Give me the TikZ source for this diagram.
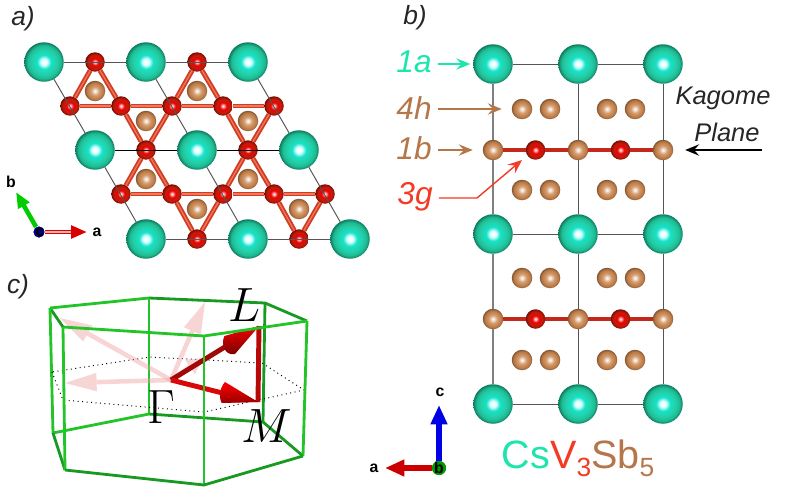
\documentclass[tikz,border=0pt]{standalone}
\usepackage{amsmath}
\usepackage{fontspec}
\setmainfont{Liberation Sans}
\usepackage{xcolor}
\usepackage{tikz}
\usetikzlibrary{arrows.meta}

\definecolor{cslabel}{HTML}{1DE5AE}
\definecolor{vlabel}{HTML}{F23A24}
\definecolor{sblabel}{HTML}{B5764A}
\definecolor{inklabel}{HTML}{262626}
\definecolor{csmid}{HTML}{24CFA6}
\definecolor{csedge}{HTML}{0E7C5E}
\definecolor{vmid}{HTML}{CC1A0A}
\definecolor{vedge}{HTML}{700C03}
\definecolor{sbmid}{HTML}{C98650}
\definecolor{sbedge}{HTML}{805430}
\definecolor{cellgray}{HTML}{555555}
\definecolor{bondred}{HTML}{D23C22}
\definecolor{bondlight}{HTML}{EE7A5E}
\definecolor{layerred}{HTML}{C4281A}
\definecolor{zoneback}{HTML}{189A22}
\definecolor{zonefront}{HTML}{22C428}
\definecolor{pathred}{HTML}{D80808}
\definecolor{pathdark}{HTML}{A00808}
\definecolor{pathfade}{HTML}{EE9C9C}

\pgfdeclareradialshading{csball}{\pgfpoint{0bp}{0bp}}{color(0bp)=(white); color(4bp)=(cyan!15!white); color(9bp)=(csmid!60!cyan); color(16bp)=(csmid); color(21bp)=(csmid!75!csedge); color(25bp)=(csedge); color(50bp)=(csedge)}
\pgfdeclareradialshading{vball}{\pgfpoint{0bp}{0bp}}{color(0bp)=(white); color(4bp)=(red!45!white); color(9bp)=(red!90!black); color(16bp)=(vmid); color(21bp)=(vmid!70!vedge); color(25bp)=(vedge); color(50bp)=(vedge)}
\pgfdeclareradialshading{sbball}{\pgfpoint{0bp}{0bp}}{color(0bp)=(white); color(4bp)=(sbmid!30!white); color(10bp)=(sbmid!80!white); color(16bp)=(sbmid); color(21bp)=(sbmid!70!sbedge); color(25bp)=(sbedge); color(50bp)=(sbedge)}

\tikzset{
    csatom/.style={circle, shading=csball, minimum size=0.79cm, inner sep=0pt, outer sep=0pt},
    vatom/.style={circle, shading=vball, minimum size=0.39cm, inner sep=0pt, outer sep=0pt},
    sbatom/.style={circle, shading=sbball, minimum size=0.41cm, inner sep=0pt, outer sep=0pt},
    cell/.style={draw=cellgray, line width=0.55pt},
    bond/.style={draw=bondred, line width=2.8pt},
    bondcore/.style={draw=bondlight, line width=0.7pt},
    layer/.style={draw=layerred, line width=1.8pt},
    paneltag/.style={font=\itshape\fontsize{15}{15}\selectfont, text=inklabel},
    sitetag/.style={font=\itshape\fontsize{18}{18}\selectfont},
    sitearrow/.style={line width=0.8pt, -{Stealth[length=8pt, width=6.5pt, inset=3pt]}},
    axistag/.style={font=\bfseries\fontsize{9}{9}\selectfont},
    kagometag/.style={font=\itshape\fontsize{14.5}{14.5}\selectfont, text=inklabel},
    zoneedge/.style={draw=zonefront, line width=1.6pt, line join=round},
    zoneback/.style={draw=zoneback, line width=1.6pt, line join=round},
    midplane/.style={draw=black, line width=0.55pt, dotted},
    fadearrow/.style={draw=pathfade, line width=2.6pt, opacity=0.42, -{Triangle[length=18pt, width=10.5pt, line width=0pt, fill=pathfade]}},
    patharrow/.style={line width=2.8pt, -{Triangle[length=20pt, width=11pt, line width=0pt, fill=pathred]}},
    bigmath/.style={scale=1.1, font=\Huge},
}

\begin{document}
\begin{tikzpicture}[x=0.02cm, y=-0.02cm]
    \useasboundingbox (0, 0) rectangle (800, 500);
    % Panel tags
    \node [paneltag] (taga) at (23, 19) {a)};
    \node [paneltag] (tagb) at (415, 18) {b)};
    \node [paneltag] (tagc) at (18, 287) {c)};

    % a) Cs
    \node [csatom] (acsa) at (44, 62) {};
    \node [csatom] (acsb) at (146, 62) {};
    \node [csatom] (acsc) at (248, 62) {};
    \node [csatom] (acsd) at (95, 150) {};
    \node [csatom] (acse) at (197, 150) {};
    \node [csatom] (acsf) at (299, 150) {};
    \node [csatom] (acsg) at (146, 239) {};
    \node [csatom] (acsh) at (248, 239) {};
    \node [csatom] (acsi) at (350, 239) {};
    % a) V
    \node [vatom] (ava) at (95, 62) {};
    \node [vatom] (avb) at (197, 62) {};
    \node [vatom] (avc) at (70, 106) {};
    \node [vatom] (avd) at (121, 106) {};
    \node [vatom] (ave) at (172, 106) {};
    \node [vatom] (avf) at (223, 106) {};
    \node [vatom] (avg) at (274, 106) {};
    \node [vatom] (avh) at (146, 150) {};
    \node [vatom] (avi) at (248, 150) {};
    \node [vatom] (avj) at (121, 194) {};
    \node [vatom] (avk) at (172, 194) {};
    \node [vatom] (avl) at (223, 194) {};
    \node [vatom] (avm) at (274, 194) {};
    \node [vatom] (avn) at (325, 194) {};
    \node [vatom] (avo) at (197, 239) {};
    \node [vatom] (avp) at (299, 239) {};
    % a) Sb
    \node [sbatom] (asba) at (95, 91) {};
    \node [sbatom] (asbb) at (197, 91) {};
    \node [sbatom] (asbc) at (146, 121) {};
    \node [sbatom] (asbd) at (248, 121) {};
    \node [sbatom] (asbe) at (146, 179) {};
    \node [sbatom] (asbf) at (248, 179) {};
    \node [sbatom] (asbg) at (197, 209) {};
    \node [sbatom] (asbh) at (299, 209) {};
    % a) V-V bonds
    \foreach \i/\j in {ava/avc, ava/avd, avb/ave, avb/avf, avc/avd, avd/ave, ave/avf, avf/avg,
                       avd/avh, ave/avh, avf/avi, avg/avi, avh/avj, avh/avk, avi/avl, avi/avm,
                       avj/avk, avk/avl, avl/avm, avm/avn, avk/avo, avl/avo, avm/avp, avn/avp} {
        \draw [bond] (\i) -- (\j);
        \draw [bondcore] (\i) -- (\j);
    }
    % a) Cell lines
    \draw [cell] (acsa) -- (acsb);
    \draw [cell] (acsb) -- (acsc);
    \draw [cell, black] (acsd) -- (acse);
    \draw [cell, black] (acse) -- (acsf);
    \draw [cell] (acsg) -- (acsh);
    \draw [cell] (acsh) -- (acsi);
    \draw [cell] (acsa) -- (acsd);
    \draw [cell] (acsd) -- (acsg);
    \draw [cell] (acsb) -- (acse);
    \draw [cell] (acse) -- (acsh);
    \draw [cell] (acsc) -- (acsf);
    \draw [cell] (acsf) -- (acsi);
    % a) Axes
    \node [circle, fill=blue!55!black, minimum size=0.22cm, inner sep=0pt] (axc) at (39, 232) {};
    \coordinate (axa) at (87, 232);
    \coordinate (axb) at (16, 192);
    \draw [line width=2.6pt, red!85!black, -{Triangle[length=9pt, width=7pt]}] (axc) -- (axa);
    \draw [line width=0.8pt, red!30!white, shorten >=9pt] (axc) -- (axa);
    \draw [line width=2.6pt, green!80!black, -{Triangle[length=9pt, width=7pt]}] (axc) -- (axb);
    \node [circle, fill=blue!55!black, minimum size=0.22cm, inner sep=0pt] (axo) at (axc) {};
    \node [axistag] (axctag) at (40, 232) {c};
    \node [axistag] (axatag) at (97, 232) {a};
    \node [axistag] (axbtag) at (11, 182) {b};

    % b) Cs
    \node [csatom] (bcsa) at (493, 64) {};
    \node [csatom] (bcsb) at (578, 64) {};
    \node [csatom] (bcsc) at (663, 64) {};
    \node [csatom] (bcsd) at (493, 234) {};
    \node [csatom] (bcse) at (578, 234) {};
    \node [csatom] (bcsf) at (663, 234) {};
    \node [csatom] (bcsg) at (493, 404) {};
    \node [csatom] (bcsh) at (578, 404) {};
    \node [csatom] (bcsi) at (663, 404) {};
    % b) Kagome rows
    \node [sbatom] (bsba) at (493, 150) {};
    \node [vatom] (bva) at (535.5, 150) {};
    \node [sbatom] (bsbb) at (578, 150) {};
    \node [vatom] (bvb) at (620.5, 150) {};
    \node [sbatom] (bsbc) at (663, 150) {};
    \node [sbatom] (bsbd) at (493, 319) {};
    \node [vatom] (bvc) at (535.5, 319) {};
    \node [sbatom] (bsbe) at (578, 319) {};
    \node [vatom] (bvd) at (620.5, 319) {};
    \node [sbatom] (bsbf) at (663, 319) {};
    % b) Sb pairs
    \foreach \y/\r in {109/a, 190/b, 278/c, 360/d} {
        \node [sbatom] (bsq\r a) at (522, \y) {};
        \node [sbatom] (bsq\r b) at (550, \y) {};
        \node [sbatom] (bsq\r c) at (607, \y) {};
        \node [sbatom] (bsq\r d) at (635, \y) {};
    }
    % b) Cell lines
    \draw [cell] (bcsa) -- (bcsb);
    \draw [cell] (bcsb) -- (bcsc);
    \draw [cell] (bcsd) -- (bcse);
    \draw [cell] (bcse) -- (bcsf);
    \draw [cell] (bcsg) -- (bcsh);
    \draw [cell] (bcsh) -- (bcsi);
    \draw [cell, gray, line width=0.8pt] (bcsa) -- (bsba);
    \draw [cell, gray, line width=0.8pt] (bsba) -- (bcsd);
    \draw [cell, gray, line width=0.8pt] (bcsd) -- (bsbd);
    \draw [cell, gray, line width=0.8pt] (bsbd) -- (bcsg);
    \draw [cell] (bcsb) -- (bsbb);
    \draw [cell] (bsbb) -- (bcse);
    \draw [cell] (bcse) -- (bsbe);
    \draw [cell] (bsbe) -- (bcsh);
    \draw [cell] (bcsc) -- (bsbc);
    \draw [cell] (bsbc) -- (bcsf);
    \draw [cell] (bcsf) -- (bsbf);
    \draw [cell] (bsbf) -- (bcsi);
    % b) V-Sb bonds
    \draw [layer] (bsba) -- (bva);
    \draw [layer] (bva) -- (bsbb);
    \draw [layer] (bsbb) -- (bvb);
    \draw [layer] (bvb) -- (bsbc);
    \draw [layer] (bsbd) -- (bvc);
    \draw [layer] (bvc) -- (bsbe);
    \draw [layer] (bsbe) -- (bvd);
    \draw [layer] (bvd) -- (bsbf);
    % b) Site labels
    \node [sitetag, text=cslabel] (site1a) at (414, 62) {1a};
    \node [sitetag, text=sblabel] (site4h) at (414, 108) {4h};
    \node [sitetag, text=sblabel] (site1b) at (414, 148) {1b};
    \node [sitetag, text=vlabel] (site3g) at (415, 197) {3g};
    \coordinate (bend3g) at (477, 198);
    \coordinate (end3g) at (522, 160);
    \draw [sitearrow, cslabel, shorten >=1.7pt] (site1a.east |- bcsa) -- (bcsa);
    \draw [sitearrow, sblabel, shorten >=5.7pt] (site4h.east |- bsqaa) -- (bsqaa);
    \draw [sitearrow, sblabel, shorten >=5.7pt] (site1b.east |- bsba) -- (bsba);
    \draw [sitearrow, vlabel] (site3g.east |- bend3g) -- (bend3g) -- (end3g);
    % b) Kagome plane
    \node [kagometag] (kagome) at (723, 98) {Kagome};
    \node [kagometag] (plane) at (727, 132) {Plane};
    \coordinate (kagstart) at (762, 150);
    \draw [sitearrow, black, shorten >=6.8pt] (kagstart) -- (bsbc);
    % b) Axes
    \node [circle, fill=green!60!black, minimum size=0.28cm, inner sep=0pt] (bxb) at (439, 468) {};
    \coordinate (bxa) at (385, 468);
    \coordinate (bxc) at (439, 405);
    \draw [line width=3pt, red!80!black, -{Triangle[length=11pt, width=9pt]}] (bxb) -- (bxa);
    \draw [line width=3pt, blue!90!black, -{Triangle[length=11pt, width=9pt]}] (bxb) -- (bxc);
    \node [circle, fill=green!60!black, minimum size=0.28cm, inner sep=0pt] (bxo) at (bxb) {};
    \node [axistag] (bxbtag) at (439, 468) {b};
    \node [axistag] (bxatag) at (374, 468) {a};
    \node [axistag] (bxctag) at (440, 392) {c};
    % Formula
    \node [font=\fontsize{22.5}{22.5}\selectfont, inner sep=0pt] (formula) at (578, 458)
        {\textcolor{cslabel}{Cs}\textcolor{vlabel}{V\raisebox{-4.5pt}{\fontsize{15}{15}\selectfont 3}}\textcolor{sblabel}{Sb\raisebox{-4.5pt}{\fontsize{15}{15}\selectfont 5}}};

    % c) Zone corners
    \coordinate (ta) at (50, 308);
    \coordinate (tb) at (63, 327);
    \coordinate (tc) at (204, 336);
    \coordinate (td) at (307, 321);
    \coordinate (te) at (265, 303);
    \coordinate (tf) at (149, 298);
    \coordinate (ba) at (53, 433);
    \coordinate (bb) at (65, 470);
    \coordinate (bc) at (204, 485);
    \coordinate (bd) at (303, 456);
    \coordinate (be) at (263, 422);
    \coordinate (bf) at (149, 414);
    \coordinate (ma) at (52, 372);
    \coordinate (mb) at (63, 400);
    \coordinate (mc) at (204, 412);
    \coordinate (md) at (304, 390);
    \coordinate (me) at (262, 363);
    \coordinate (mf) at (150, 357);
    \coordinate (gam) at (171, 380);
    \coordinate (lpt) at (259, 326);
    \coordinate (mpt) at (258, 402);
    \coordinate (fada) at (60, 318);
    \coordinate (fadb) at (205, 302);
    \coordinate (fadc) at (65, 383);
    \coordinate (fadd) at (203, 358);
    % c) Back edges
    \draw [zoneback] (tf) -- (te) -- (td);
    \draw [zoneback] (ta) -- (tb);
    \draw [zoneback] (bf) -- (be) -- (bd);
    \draw [zoneback] (te) -- (be);
    \draw [zoneedge] (tf) -- (ta);
    \draw [zoneedge] (tf) -- (bf);
    \draw [zoneedge] (ta) -- (ba) -- (bf);
    \draw [zoneback] (ba) -- (bb);
    % c) Middle plane
    \draw [midplane] (ma) -- (mb) -- (mc) -- (md) -- (me) -- (mf) -- cycle;
    % c) Faded directions
    \draw [fadearrow] (gam) -- (fada);
    \draw [fadearrow] (gam) -- (fadb);
    \draw [fadearrow] (gam) -- (fadc);
    \draw [fadearrow, -{Triangle[length=9pt, width=10pt, line width=0pt, fill=pathfade]}] (gam) -- (fadd);
    % c) Path
    \draw [patharrow, pathdark] (gam) -- (lpt);
    \draw [patharrow, pathred] (gam) -- (mpt);
    \draw [line width=2.8pt, pathred!85!black] (lpt) -- (mpt);
    % c) Cones
    \shade [top color=red!95!black, bottom color=red!45!black] (259, 326) -- (224, 337) .. controls (221, 345) and (225, 356) .. (235, 354) -- cycle;
    \shade [top color=red, bottom color=red!60!black] (258, 402) -- (225, 382) .. controls (219, 388) and (219, 400) .. (222, 403) -- cycle;
    % c) Front edges
    \draw [zoneedge] (tb) -- (tc) -- (td);
    \draw [zoneedge] (tb) -- (bb);
    \draw [zoneedge] (tc) -- (bc);
    \draw [zoneedge] (td) -- (bd);
    \draw [zoneback] (bb) -- (bc) -- (bd);
    % c) Point labels
    \node [bigmath] (gamtag) at (161, 407) {$\Gamma$};
    \node [bigmath] (ltag) at (245, 305) {$L$};
    \node [bigmath] (mtag) at (267, 426) {$M$};
\end{tikzpicture}
\end{document}
